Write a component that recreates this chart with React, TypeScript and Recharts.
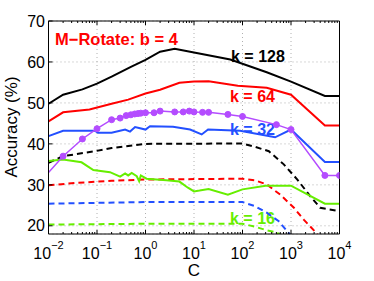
import React from 'react';
import { LineChart, Line, XAxis, YAxis, CartesianGrid, ReferenceLine, Customized } from 'recharts';

// ---- tick labels ----
const xMajorTicks = [0.01, 0.1, 1, 10, 100, 1000, 10000];
const xExponents = ['\u22122', '\u22121', '0', '1', '2', '3', '4'];
const xMinorMultipliers = [2, 3, 4, 5, 6, 7, 8, 9];
const yTicks = [20, 30, 40, 50, 60, 70];

// ---- annotation texts ----
const titleText = 'M\u2212Rotate: b = 4';
const seriesLabels = ['k = 128', 'k = 64', 'k = 32', 'k = 16'];

// ---- series: k = 128 (black) ----
const cBlack128 = [0.01, 0.02, 0.05, 0.1, 0.2, 0.5, 1, 2, 4, 10, 56, 316, 1000, 5000, 10000];
const accBlack128 = [49.8, 52.0, 53.3, 54.7, 56.4, 58.8, 60.5, 62.5, 63.2, 62.3, 60.6, 57.5, 55.2, 51.7, 51.7];
const cBlack128d = [0.01, 0.02, 0.09, 0.2, 1, 100, 180, 350, 710, 1350, 2500, 4000, 10000];
const accBlack128d = [35.4, 37.0, 38.2, 39.0, 40.0, 40.1, 39.3, 38.2, 35.0, 31.3, 27.2, 24.4, 23.6];

// ---- series: k = 64 (red) ----
const cRed64 = [0.01, 0.02, 0.07, 0.2, 0.44, 1, 2, 5, 10, 20, 80, 316, 1000, 5000, 10000];
const accRed64 = [45.5, 47.7, 48.4, 49.8, 50.8, 52.3, 53.2, 54.9, 55.2, 55.3, 54.2, 53.7, 52.0, 44.5, 44.5];
const cRed64d = [0.01, 0.04, 0.2, 1, 100, 180, 316, 600, 1150, 1830, 3300, 4000];
const accRed64d = [29.9, 30.5, 31.0, 31.3, 31.5, 31.1, 30.1, 27.6, 24.4, 21.5, 18.3, 17.0];

// ---- series: k = 32 (blue) ----
const cBlue32 = [0.01, 0.02, 0.09, 0.105, 0.2, 0.38, 0.48, 0.61, 1, 1.24, 3.7, 8.3, 14.4, 19.5, 89, 470, 1000, 5000, 10000];
const accBlue32 = [41.9, 43.2, 43.2, 42.7, 42.7, 43.5, 43.0, 44.1, 43.5, 44.3, 44.2, 43.5, 42.3, 43.5, 43.2, 41.6, 43.5, 35.6, 35.6];
const cBlue32d = [0.01, 1, 100, 180, 316, 560, 830, 1000];
const accBlue32d = [25.4, 25.8, 25.8, 24.8, 23.2, 21.1, 18.7, 17.5];

// ---- series: purple with markers ----
const cPurple = [0.01, 0.02, 0.05, 0.1, 0.2, 0.3, 0.4, 0.5, 0.6, 0.7, 0.8, 1, 1.5, 2, 4, 6, 8, 10, 15, 20, 50, 100, 500, 1000, 5000, 10000];
const accPurple = [33.0, 37.0, 41.2, 43.7, 45.9, 46.3, 46.9, 47.1, 47.3, 47.4, 47.5, 47.6, 47.6, 48.0, 47.8, 47.8, 48.0, 47.8, 47.7, 47.7, 47.2, 46.7, 44.7, 43.5, 32.3, 32.3];

// ---- series: k = 16 (green) ----
const cGreen16 = [0.01, 0.02, 0.048, 0.084, 0.185, 0.3, 0.38, 0.44, 0.52, 0.66, 0.74, 0.8, 1.05, 2.7, 5, 7.5, 10, 13, 20, 50, 100, 300, 1000, 5000, 10000];
const accGreen16 = [35.8, 36.2, 35.5, 33.6, 33.1, 32.0, 32.8, 32.3, 32.9, 32.1, 30.9, 32.3, 31.5, 31.1, 30.8, 29.3, 28.4, 28.6, 29.0, 27.6, 28.9, 29.8, 29.8, 25.4, 25.4];
const cGreen16d = [0.01, 1, 100, 180, 316, 510, 600];
const accGreen16d = [20.3, 20.5, 20.5, 19.8, 18.9, 18.4, 17.8];

const BLACK = '#000000';
const RED = '#ff0000';
const BLUE = '#2350ff';
const PURPLE = '#b44cff';
const GREEN = '#66ee00';
const FONT = '"Liberation Sans", Arial, Helvetica, sans-serif';

const zip = (cs: number[], vs: number[]) => cs.map((c, i) => ({ C: c, acc: vs[i] }));

const xMinorTicks = xMajorTicks.slice(0, -1).flatMap((d) => xMinorMultipliers.map((m) => d * m));
const xAllTicks = [...xMajorTicks, ...xMinorTicks];

const BottomTick = (props: any) => {
  const { x, y, payload } = props;
  const idx = xMajorTicks.indexOf(payload.value);
  const major = idx >= 0;
  return (
    <g>
      <line x1={x} x2={x} y1={y} y2={y - (major ? 4 : 2)} stroke={BLACK} strokeWidth={1} />
      {major && (
        <text x={x} y={y + 25} textAnchor="middle" fontSize={16} fontFamily={FONT} fill={BLACK}>
          <tspan>10</tspan>
          <tspan dy={-10} fontSize={11}>{xExponents[idx]}</tspan>
        </text>
      )}
    </g>
  );
};

const TopTick = (props: any) => {
  const { x, y, payload } = props;
  const major = xMajorTicks.indexOf(payload.value) >= 0;
  return <line x1={x} x2={x} y1={y} y2={y + (major ? 4 : 2)} stroke={BLACK} strokeWidth={1} />;
};

const PurpleDot = (props: any) => {
  const { cx, cy, index } = props;
  if (index === 0 || cx == null || cy == null) return <g key={`pd-${index}`} />;
  return <circle key={`pd-${index}`} cx={cx} cy={cy} r={3} fill={PURPLE} stroke={PURPLE} />;
};

const Annotations = () => (
  <g>
    <text x={55} y={45} textAnchor="start" fontSize={16.5} fontWeight="bold" fontFamily={FONT} fill={RED}>
      {titleText}
    </text>
    <text x={231} y={62} textAnchor="start" fontSize={16} fontWeight="bold" fontFamily={FONT} fill={BLACK}>
      {seriesLabels[0]}
    </text>
    <text x={230} y={101.5} textAnchor="start" fontSize={16} fontWeight="bold" fontFamily={FONT} fill={RED}>
      {seriesLabels[1]}
    </text>
    <text x={230} y={135} textAnchor="start" fontSize={16} fontWeight="bold" fontFamily={FONT} fill={BLUE}>
      {seriesLabels[2]}
    </text>
    <text x={230} y={223.5} textAnchor="start" fontSize={16} fontWeight="bold" fontFamily={FONT} fill={GREEN}>
      {seriesLabels[3]}
    </text>
    <text
      x={17}
      y={127}
      transform="rotate(-90 17 127)"
      textAnchor="middle"
      fontSize={17}
      fontFamily={FONT}
      fill={BLACK}
    >
      Accuracy (%)
    </text>
  </g>
);

const series = [
  { key: 'b128d', data: zip(cBlack128d, accBlack128d), color: BLACK, dash: '6 4' },
  { key: 'r64d', data: zip(cRed64d, accRed64d), color: RED, dash: '6 4' },
  { key: 'bl32d', data: zip(cBlue32d, accBlue32d), color: BLUE, dash: '6 4' },
  { key: 'g16d', data: zip(cGreen16d, accGreen16d), color: GREEN, dash: '6 4' },
  { key: 'g16', data: zip(cGreen16, accGreen16), color: GREEN },
  { key: 'bl32', data: zip(cBlue32, accBlue32), color: BLUE },
  { key: 'r64', data: zip(cRed64, accRed64), color: RED },
  { key: 'b128', data: zip(cBlack128, accBlack128), color: BLACK },
];

export default function App() {
  return (
    <div style={{ position: 'absolute', left: 0, top: 0, background: '#fff' }}>
      <LineChart width={374} height={281} margin={{ top: 20, right: 33.5, bottom: 0, left: 0 }}>
        <CartesianGrid
          xAxisId="bottom"
          yAxisId="left"
          vertical={false}
          stroke="#b0b0b0"
          strokeDasharray="1 3"
        />
        {xMajorTicks.slice(1, -1).map((v) => (
          <ReferenceLine
            key={`vg-${v}`}
            x={v}
            xAxisId="bottom"
            yAxisId="left"
            stroke="#b0b0b0"
            strokeDasharray="1 3"
          />
        ))}
        <XAxis
          xAxisId="bottom"
          dataKey="C"
          type="number"
          scale="log"
          domain={[0.01, 10000]}
          allowDataOverflow
          ticks={xAllTicks}
          interval={0}
          tickLine={false}
          tickSize={0}
          tickMargin={0}
          tick={<BottomTick />}
          height={47}
          axisLine={{ stroke: BLACK }}
          label={{ value: 'C', position: 'insideBottom', offset: 5, fontSize: 17, fill: BLACK, fontFamily: FONT }}
        />
        <XAxis
          xAxisId="top"
          orientation="top"
          dataKey="C"
          type="number"
          scale="log"
          domain={[0.01, 10000]}
          allowDataOverflow
          ticks={xAllTicks}
          interval={0}
          tickLine={false}
          tickSize={0}
          tickMargin={0}
          tick={<TopTick />}
          height={1}
          axisLine={{ stroke: BLACK }}
        />
        <YAxis
          yAxisId="left"
          type="number"
          domain={[18, 70]}
          allowDataOverflow
          ticks={yTicks}
          interval={0}
          width={48.5}
          tickSize={-4}
          tickMargin={7.5}
          tickLine={{ stroke: BLACK }}
          axisLine={{ stroke: BLACK }}
          tick={{ fontSize: 16, fill: BLACK, fontFamily: FONT }}
        />
        <YAxis
          yAxisId="right"
          orientation="right"
          type="number"
          domain={[18, 70]}
          allowDataOverflow
          ticks={yTicks}
          interval={0}
          width={1}
          tickSize={-4}
          tick={false}
          tickLine={{ stroke: BLACK }}
          axisLine={{ stroke: BLACK }}
        />
        {series.map((s) => (
          <Line
            key={s.key}
            xAxisId="bottom"
            yAxisId="left"
            data={s.data}
            dataKey="acc"
            type="linear"
            stroke={s.color}
            strokeWidth={2}
            strokeDasharray={s.dash}
            dot={false}
            activeDot={false}
            isAnimationActive={false}
          />
        ))}
        <Line
          xAxisId="bottom"
          yAxisId="left"
          data={zip(cPurple, accPurple)}
          dataKey="acc"
          type="linear"
          stroke={PURPLE}
          strokeWidth={1.5}
          dot={PurpleDot}
          activeDot={false}
          isAnimationActive={false}
        />
        <Customized component={Annotations} />
      </LineChart>
    </div>
  );
}
